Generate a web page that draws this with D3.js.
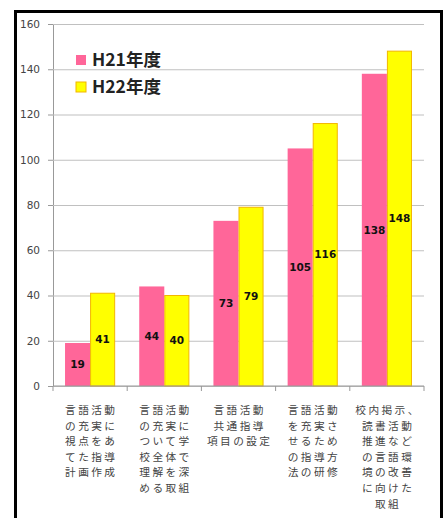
<!DOCTYPE html>
<html>
<head>
<meta charset="utf-8">
<script src="https://cdn.jsdelivr.net/npm/d3@7"></script>
<style>
  html, body { margin: 0; padding: 0; background: #fff; }
  svg { display: block; }
</style>
</head>
<body>
<div id="chart_div"></div>
<script>
// categories (each label split into the lines it is drawn on)
const categories = ["c1", "c2", "c3", "c4", "c5"]
const categoryLines = [
  ["言語活動", "の充実に", "視点をあ", "てた指導", "計画作成"],
  ["言語活動", "の充実に", "ついて学", "校全体で", "理解を深", "める取組"],
  ["言語活動", "共通指導", "項目の設定"],
  ["言語活動", "を充実さ", "せるため", "の指導方", "法の研修"],
  ["校内掲示、", "読書活動", "推進など", "の言語環", "境の改善", "に向けた", "取組"],
]
const seriesNames = ["H21年度", "H22年度"]
const valuesH21 = [19, 44, 73, 105, 138]
const valuesH22 = [41, 40, 79, 116, 148]
const yTicks = [0, 20, 40, 60, 80, 100, 120, 140, 160]

const H21fill = "#ff6699"
const H22fill = "#ffff00"
const H22stroke = "#f2b600"

const width = 444, height = 518

const svg = d3.select("#chart_div")
  .append("svg")
  .attr("width", width)
  .attr("height", height)

// frame around the chart (no bottom edge)
svg.append("path")
  .attr("d", `M15.5,${height} V11.5 H441.5 V${height}`)
  .attr("fill", "none")
  .attr("stroke", "#000")
  .attr("stroke-width", 3)

const plot = { left: 53, right: 424, top: 24, bottom: 386 }

const x0 = d3.scaleBand()
  .domain(categories)
  .range([plot.left, plot.right])

const x1 = d3.scaleBand()
  .domain(seriesNames)
  .range([0, x0.bandwidth()])
  .paddingOuter(0.48)

const y = d3.scaleLinear()
  .domain([0, 160])
  .range([plot.bottom, plot.top])

// gridlines + y axis
const yAxis = svg.append("g")
  .attr("transform", `translate(${plot.left},0)`)
  .call(d3.axisLeft(y).tickValues(yTicks).tickSize(5).tickPadding(8))
yAxis.select(".domain").attr("stroke", "#999")
yAxis.selectAll(".tick line").attr("stroke", "#999")
yAxis.selectAll(".tick").append("line")
  .attr("x2", plot.right - plot.left)
  .attr("stroke", "#c0c0c0")
  .attr("stroke-width", 1.2)
yAxis.selectAll(".tick text")
  .attr("font-family", "DejaVu Sans, sans-serif")
  .attr("font-size", 10.5)
  .attr("fill", "#444")

// bars
const data = categories.map((c, i) => ({
  cat: c,
  vals: [
    { s: seriesNames[0], v: valuesH21[i] },
    { s: seriesNames[1], v: valuesH22[i] },
  ]
}))

const groups = svg.selectAll(".grp")
  .data(data)
  .join("g")
  .attr("class", "grp")
  .attr("transform", d => `translate(${x0(d.cat)},0)`)

groups.selectAll("rect")
  .data(d => d.vals)
  .join("rect")
  .attr("x", d => x1(d.s) + (d.s === seriesNames[1] ? 0.5 : 0))
  .attr("y", d => y(d.v))
  .attr("width", d => x1.bandwidth() - (d.s === seriesNames[1] ? 1 : 0))
  .attr("height", d => y(0) - y(d.v))
  .attr("fill", d => d.s === seriesNames[0] ? H21fill : H22fill)
  .attr("stroke", d => d.s === seriesNames[0] ? "none" : H22stroke)
  .attr("stroke-width", 1)

groups.selectAll("text.val")
  .data(d => d.vals)
  .join("text")
  .attr("class", "val")
  .attr("x", d => x1(d.s) + x1.bandwidth() / 2)
  .attr("y", d => (y(d.v) + y(0)) / 2)
  .attr("dy", ".35em")
  .attr("text-anchor", "middle")
  .attr("font-family", "DejaVu Sans, sans-serif")
  .attr("font-weight", "bold")
  .attr("font-size", 10.5)
  .attr("fill", "#111")
  .text(d => d.v)

// x axis with ticks at category boundaries
const xAxis = svg.append("g")
  .attr("transform", `translate(0,${plot.bottom})`)
xAxis.append("line")
  .attr("x1", plot.left).attr("x2", plot.right)
  .attr("stroke", "#999")
xAxis.selectAll("line.tk")
  .data(categories.map(c => x0(c)).concat([plot.right]))
  .join("line")
  .attr("class", "tk")
  .attr("x1", d => d).attr("x2", d => d)
  .attr("y1", 0).attr("y2", 5)
  .attr("stroke", "#999")

// category labels, one text per line
categories.forEach((c, i) => {
  svg.selectAll(null)
    .data(categoryLines[i])
    .join("text")
    .attr("class", "cat")
    .attr("text-anchor", "middle")
    .attr("font-family", "Noto Sans CJK JP, sans-serif")
    .attr("font-size", 10.7)
    .attr("letter-spacing", 2.4)
    .attr("fill", "#444")
    .attr("x", x0(c) + x0.bandwidth() / 2 + 1.2)
    .attr("y", (d, j) => 414 + j * 15.6)
    .text(d => d)
})

// legend
const legend = svg.selectAll(".leg")
  .data(seriesNames)
  .join("g")
  .attr("class", "leg")
  .attr("transform", (d, i) => `translate(76,${55 + i * 27})`)
legend.append("rect")
  .attr("width", 10).attr("height", 10)
  .attr("fill", (d, i) => i === 0 ? H21fill : H22fill)
  .attr("stroke", (d, i) => i === 0 ? "none" : H22stroke)
legend.append("text")
  .attr("x", 16)
  .attr("y", 5)
  .attr("dy", ".36em")
  .attr("font-family", "Noto Sans CJK JP, sans-serif")
  .attr("font-weight", "bold")
  .attr("font-size", 17.5)
  .attr("fill", "#222")
  .text(d => d)
</script>
</body>
</html>
